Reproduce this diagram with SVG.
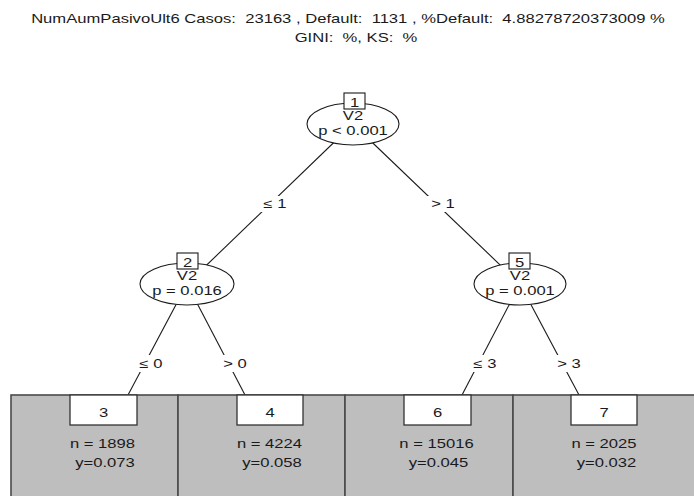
<svg xmlns="http://www.w3.org/2000/svg" width="694" height="496" viewBox="0 0 694 496">
  <style>
    text { font-family: "Liberation Sans", Arial, sans-serif; font-size: 12.5px; fill: #1a1a1a; text-anchor: middle; white-space: pre; }
    .edge { stroke: #1a1a1a; stroke-width: 1.1; fill: none; }
    .lblbg { fill: #ffffff; stroke: none; }
    .inner { fill: #ffffff; stroke: #1a1a1a; stroke-width: 1.1; }
    .idbox { fill: #ffffff; stroke: #1a1a1a; stroke-width: 1.1; }
    .panel { fill: #bebebe; stroke: #4a4a4a; stroke-width: 1.6; }
    .leafid { fill: #ffffff; stroke: #333333; stroke-width: 1.3; }
  </style>

  <rect width="694" height="496" fill="#ffffff"/>

  <!-- title -->
  <g id="title">
    <text xml:space="preserve" transform="translate(348 23) scale(1.33 1)">NumAumPasivoUlt6 Casos:  23163 , Default:  1131 , %Default:  4.88278720373009 %</text>
    <text xml:space="preserve" transform="translate(356 42) scale(1.33 1)">GINI:  %, KS:  %</text>
  </g>

  <!-- connectors with split labels -->
  <g id="connectors">
    <line class="edge" x1="353" y1="124" x2="187" y2="284"/>
    <line class="edge" x1="353" y1="124" x2="520" y2="284"/>
    <line class="edge" x1="187" y1="284" x2="128" y2="395"/>
    <line class="edge" x1="187" y1="284" x2="245" y2="395"/>
    <line class="edge" x1="520" y1="284" x2="462" y2="395"/>
    <line class="edge" x1="520" y1="284" x2="579" y2="395"/>

    <rect class="lblbg" x="258" y="196" width="34" height="16"/>
    <rect class="lblbg" x="424" y="196" width="38" height="16"/>
    <rect class="lblbg" x="136" y="355" width="30" height="17"/>
    <rect class="lblbg" x="220" y="355" width="30" height="17"/>
    <rect class="lblbg" x="470" y="355" width="30" height="17"/>
    <rect class="lblbg" x="554" y="355" width="30" height="17"/>

    <text transform="translate(275 208) scale(1.33 1)">≤ 1</text>
    <text transform="translate(443 208) scale(1.33 1)">&gt; 1</text>
    <text transform="translate(151 368) scale(1.33 1)">≤ 0</text>
    <text transform="translate(235 368) scale(1.33 1)">&gt; 0</text>
    <text transform="translate(485 368) scale(1.33 1)">≤ 3</text>
    <text transform="translate(569 368) scale(1.33 1)">&gt; 3</text>
  </g>

  <!-- inner node 1 -->
  <g id="node1">
    <ellipse class="inner" cx="353" cy="124" rx="46" ry="21"/>
    <rect class="idbox" x="344" y="93" width="21" height="16"/>
    <text transform="translate(354.5 107) scale(1.33 1)">1</text>
    <text transform="translate(353 120) scale(1.33 1)">V2</text>
    <text transform="translate(353 135) scale(1.33 1)">p &lt; 0.001</text>
  </g>

  <!-- inner node 2 -->
  <g id="node2">
    <ellipse class="inner" cx="187" cy="284" rx="47" ry="21"/>
    <rect class="idbox" x="177" y="253" width="21" height="16"/>
    <text transform="translate(187.5 267) scale(1.33 1)">2</text>
    <text transform="translate(187 280) scale(1.33 1)">V2</text>
    <text transform="translate(187 295) scale(1.33 1)">p = 0.016</text>
  </g>

  <!-- inner node 5 -->
  <g id="node5">
    <ellipse class="inner" cx="520" cy="284" rx="46" ry="21"/>
    <rect class="idbox" x="509" y="253" width="21" height="16"/>
    <text transform="translate(519.5 267) scale(1.33 1)">5</text>
    <text transform="translate(520 280) scale(1.33 1)">V2</text>
    <text transform="translate(520 295) scale(1.33 1)">p = 0.001</text>
  </g>

  <!-- terminal nodes -->
  <g id="node3">
    <rect class="panel" x="11" y="395" width="167" height="120"/>
    <rect class="leafid" x="70" y="395" width="67" height="30"/>
    <text transform="translate(103.5 417) scale(1.33 1)">3</text>
    <text transform="translate(102.5 448) scale(1.33 1)">n = 1898</text>
    <text transform="translate(105 467) scale(1.33 1)">y=0.073</text>
  </g>

  <g id="node4">
    <rect class="panel" x="178" y="395" width="167" height="120"/>
    <rect class="leafid" x="237" y="395" width="66" height="30"/>
    <text transform="translate(270 417) scale(1.33 1)">4</text>
    <text transform="translate(269.5 448) scale(1.33 1)">n = 4224</text>
    <text transform="translate(272 467) scale(1.33 1)">y=0.058</text>
  </g>

  <g id="node6">
    <rect class="panel" x="345" y="395" width="168" height="120"/>
    <rect class="leafid" x="404" y="395" width="67" height="30"/>
    <text transform="translate(437.5 417) scale(1.33 1)">6</text>
    <text transform="translate(436.5 448) scale(1.33 1)">n = 15016</text>
    <text transform="translate(438.5 467) scale(1.33 1)">y=0.045</text>
  </g>

  <g id="node7">
    <rect class="panel" x="513" y="395" width="200" height="120"/>
    <rect class="leafid" x="571" y="395" width="66" height="30"/>
    <text transform="translate(604 417) scale(1.33 1)">7</text>
    <text transform="translate(604 448) scale(1.33 1)">n = 2025</text>
    <text transform="translate(606.5 467) scale(1.33 1)">y=0.032</text>
  </g>
</svg>
